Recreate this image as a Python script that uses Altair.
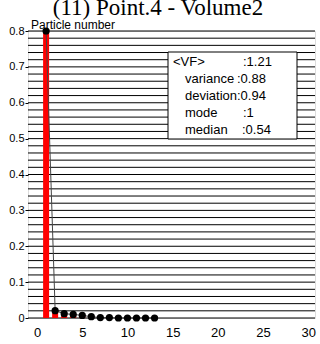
import altair as alt
import pandas as pd

# ---- data ----
sizes = list(range(1, 14))
fractions = [0.8, 0.0205, 0.012, 0.010, 0.0073, 0.0037, 0.0012, 0.0012, 0.0, 0.0, 0.0, 0.0, 0.0]
y_ticks = [0, 0.1, 0.2, 0.3, 0.4, 0.5, 0.6, 0.7, 0.8]
x_ticks = [0, 5, 10, 15, 20, 25, 30]
grid_levels = [round(i * 0.02, 2) for i in range(41)]
title_text = "(11) Point.4 - Volume2"
y_title = "Particle number"
stat_names = ["<VF>", "variance", "deviation", "mode", "median"]
stat_values = [":1.21", ":0.88", ":0.94", ":1", ":0.54"]

df = pd.DataFrame({"size": sizes, "frac": fractions})
grid_df = pd.DataFrame({"frac": grid_levels})

W, H = 287, 287
SANS = "Liberation Sans"
SERIF = "Liberation Serif"

xs = alt.Scale(domain=[-0.45, 30.2], nice=False, zero=False)
ys = alt.Scale(domain=[0, 0.8], nice=False)

x_enc = alt.X("size:Q", scale=xs, title=None,
              axis=alt.Axis(values=x_ticks, ticks=False, domain=False, grid=False,
                            labelFontSize=13, labelPadding=8, labelFont=SANS,
                            labelColor="black"))
y_axis = alt.Axis(values=y_ticks, grid=False, domain=False, tickSize=3,
                  tickColor="black", labelFontSize=11, labelFont=SANS,
                  labelColor="black", labelPadding=1,
                  labelExpr="datum.value == 0 ? '0' : format(datum.value, '.1f')")
y_enc = alt.Y("frac:Q", scale=ys, title=None, axis=y_axis)

grid = alt.Chart(grid_df).mark_rule(color="black", strokeWidth=1).encode(y=y_enc)

bars = alt.Chart(df).mark_bar(color="#ff0000", size=6).encode(x=x_enc, y=y_enc)
line = alt.Chart(df).mark_line(color="#444444", strokeWidth=1).encode(x=x_enc, y=y_enc)
points = alt.Chart(df).mark_circle(color="black", size=52, opacity=1).encode(x=x_enc, y=y_enc)

box = alt.Chart(pd.DataFrame({"k": [0]})).mark_rect(fill="white", stroke="black", strokeWidth=1).encode(
    x=alt.value(140), x2=alt.value(269), y=alt.value(21), y2=alt.value(108)
)

layers = [grid, bars, line, points, box]

name_x = [145, 157, 157, 157, 157]
val_x = [215, 209, 209, 215, 214]
for i, (n, v) in enumerate(zip(stat_names, stat_values)):
    yy = 31 + 17 * i
    layers.append(
        alt.Chart(pd.DataFrame({"t": [n]})).mark_text(
            font=SANS, fontSize=13, align="left", baseline="middle", color="black"
        ).encode(x=alt.value(name_x[i]), y=alt.value(yy), text="t:N")
    )
    layers.append(
        alt.Chart(pd.DataFrame({"t": [v]})).mark_text(
            font=SANS, fontSize=13, align="left", baseline="middle", color="black"
        ).encode(x=alt.value(val_x[i]), y=alt.value(yy), text="t:N")
    )

title = alt.Chart(pd.DataFrame({"t": [title_text]})).mark_text(
    font=SERIF, fontSize=23, align="center", baseline="alphabetic", color="black"
).encode(x=alt.value(130), y=alt.value(-16), text="t:N")

ylab = alt.Chart(pd.DataFrame({"t": [y_title]})).mark_text(
    font=SANS, fontSize=12, align="left", baseline="alphabetic", color="black"
).encode(x=alt.value(3), y=alt.value(-2), text="t:N")

layers += [title, ylab]

chart = alt.layer(*layers).properties(
    width=W, height=H,
    autosize=alt.AutoSizeParams(type="none"),
    padding={"left": 28, "top": 31, "right": 5, "bottom": 26},
).configure_view(stroke="black", strokeWidth=1.5).configure(background="white")

chart.save("out.html", embed_options={"renderer": "svg", "actions": False})
